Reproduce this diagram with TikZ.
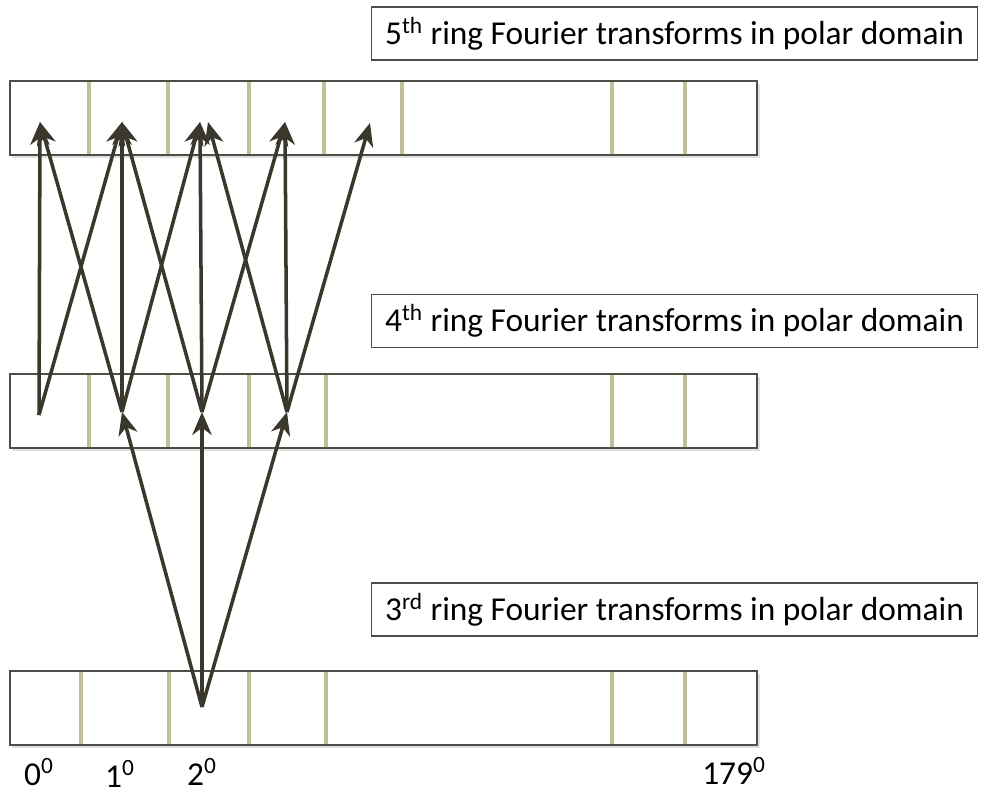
\documentclass[tikz,border=0pt]{standalone}
\usepackage{fontspec}
\setmainfont{Carlito}
\usetikzlibrary{arrows.meta}
\tikzset{>={Stealth[length=13pt,width=11pt,inset=4pt]}}
\definecolor{arrowcol}{HTML}{3A372C}
\definecolor{sepcol}{HTML}{C2BD9A}
\definecolor{barcol}{HTML}{4E4D47}
\tikzstyle{bar}=[draw=barcol,line width=1.1pt,fill=white]
\tikzstyle{barshadow}=[fill=black!12]
\tikzstyle{sep}=[draw=sepcol,line width=2pt]
\tikzstyle{link}=[->,draw=arrowcol,line width=2pt]
\tikzstyle{caption}=[draw=barcol,line width=0.8pt,anchor=west,inner xsep=0.27cm,minimum height=1.06cm,font=\fontsize{19}{22}\selectfont]
\tikzstyle{degree}=[font=\fontsize{19}{22}\selectfont,inner sep=0pt,anchor=base]

\begin{document}
\begin{tikzpicture}[x=0.02cm,y=-0.02cm]
  \useasboundingbox (0,0) rectangle (987,794);
  \def\L{10}
  \def\R{757}
  \def\H{74}
  % the three rings
  \foreach \y/\seps in {81/{89,168,249,324,402,612,685},
                        374/{89,168,249,326,612,685},
                        671/{81,169,249,326,612,685}}{
    \fill[barshadow] (\L+2,\y+3) rectangle (\R+3,\y+\H+3);
    \draw[bar] (\L,\y) rectangle (\R,\y+\H);
    \foreach \x in \seps
      \draw[sep] (\x,\y+1) -- (\x,\y+\H-1);
  }
  \node[caption] (ring5) at (371,33.5) {5\textsuperscript{th} ring Fourier transforms in polar domain};
  \node[caption] (ring4) at (371,321) {4\textsuperscript{th} ring Fourier transforms in polar domain};
  \node[caption] (ring3) at (371,609.5) {3\textsuperscript{rd} ring Fourier transforms in polar domain};
  % end points of the links
  \coordinate (t0) at (40,122);
  \coordinate (t1) at (122,122);
  \coordinate (t2a) at (200,122);
  \coordinate (t2b) at (208,122);
  \coordinate (t3) at (285,122);
  \coordinate (t4) at (370,123);
  \coordinate (m0) at (39,415);
  \coordinate (m1) at (122,412);
  \coordinate (m2) at (202,412);
  \coordinate (m3) at (287,412);
  \coordinate (b2) at (202,707);
  % 4th ring -> 5th ring
  \draw[link] (m0) -- (t0);
  \draw[link] (m0) -- (t1);
  \draw[link] (m1) -- (t0);
  \draw[link] (m1) -- (t1);
  \draw[link] (m1) -- (t2a);
  \draw[link] (m2) -- (t1);
  \draw[link] (m2) -- (t2a);
  \draw[link] (m2) -- (t3);
  \draw[link] (m3) -- (t2b);
  \draw[link] (m3) -- (t3);
  \draw[link] (m3) -- (t4);
  % 3rd ring -> 4th ring
  \draw[link] (b2) -- (m1);
  \draw[link] (b2) -- (m2);
  \draw[link] (b2) -- (m3);
  % angles
  \node[degree] (deg0) at (39,785) {0\textsuperscript{0}};
  \node[degree] (deg1) at (120,787) {1\textsuperscript{0}};
  \node[degree] (deg2) at (202,785) {2\textsuperscript{0}};
  \node[degree] (deg179) at (734,784) {179\textsuperscript{0}};
\end{tikzpicture}
\end{document}
